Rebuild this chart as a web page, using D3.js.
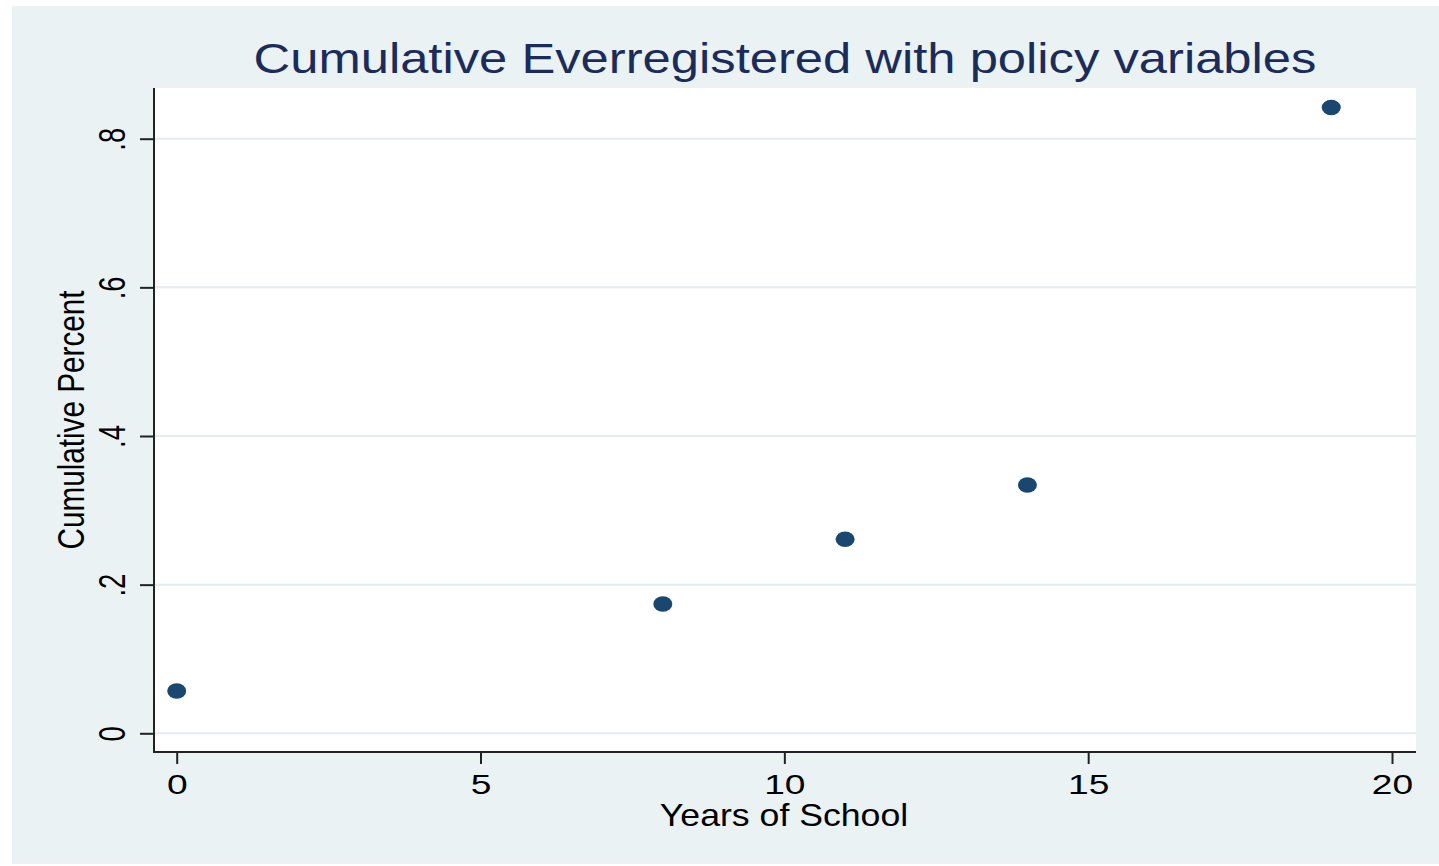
<!DOCTYPE html>
<html>
<head>
<meta charset="utf-8">
<script src="https://cdn.jsdelivr.net/npm/d3@7"></script>
<style>
  html, body { margin: 0; padding: 0; background: #ffffff; }
  svg { display: block; font-family: "Liberation Sans", Arial, Helvetica, sans-serif; }
</style>
</head>
<body>
<div class="container"></div>
<script>
// data
const years = [0, 8, 11, 14, 19]
const cumPct = [0.057, 0.174, 0.261, 0.334, 0.842]
const xTicks = [0, 5, 10, 15, 20]
const yTicks = [0, 0.2, 0.4, 0.6, 0.8]
const yTickLabels = ["0", ".2", ".4", ".6", ".8"]

const width = 1439
const height = 866
// plot region (white box)
const plot = {left: 154, right: 1416, top: 88, bottom: 752}

const navy = "#1a476f"
const bg = "#eaf2f3"

const svg = d3.select(".container")
    .append("svg")
    .attr("width", width)
    .attr("height", height)

// outer graph region
svg.append("rect")
    .attr("x", 12).attr("y", 6)
    .attr("width", width - 12).attr("height", height - 8)
    .attr("fill", bg)

svg.append("rect")
    .attr("x", plot.left).attr("y", plot.top)
    .attr("width", plot.right - plot.left)
    .attr("height", plot.bottom - plot.top)
    .attr("fill", "#ffffff")

const x = d3.scaleLinear().domain([0, 20]).range([176.7, 1392])
const y = d3.scaleLinear().domain([0, 0.8]).range([733.3, 138.7])

// gridlines
svg.append("g")
    .selectAll("line")
    .data(yTicks)
    .enter().append("line")
    .attr("x1", plot.left).attr("x2", plot.right)
    .attr("y1", d => y(d)).attr("y2", d => y(d))
    .attr("stroke", "#e4ecef")
    .attr("stroke-width", 2)

// x axis
const xAxis = svg.append("g")
    .attr("transform", "translate(0," + plot.bottom + ")")
    .call(d3.axisBottom(x).tickValues(xTicks).tickSize(12).tickSizeOuter(0))
xAxis.select(".domain").remove()
xAxis.selectAll(".tick line").attr("stroke", "#222").attr("stroke-width", 2)
xAxis.selectAll(".tick text")
    .attr("y", null).attr("dy", null)
    .attr("fill", "#000")
    .style("font-size", "27.5px")
    .attr("text-anchor", "middle")
    .attr("transform", "translate(0,42) scale(1.35,1)")

// y axis
const yAxis = svg.append("g")
    .attr("transform", "translate(" + plot.left + ",0)")
    .call(d3.axisLeft(y).tickValues(yTicks).tickSize(14).tickSizeOuter(0)
        .tickFormat((d, i) => yTickLabels[i]))
yAxis.select(".domain").remove()
yAxis.selectAll(".tick line").attr("stroke", "#222").attr("stroke-width", 2)
yAxis.selectAll(".tick text")
    .attr("x", null).attr("dy", null)
    .attr("fill", "#000")
    .style("font-size", "27.5px")
    .attr("text-anchor", "middle")
    .attr("transform", "translate(-29,0) scale(1.33,1) rotate(-90)")

// axis lines (left and bottom of the plot box)
svg.append("line")
    .attr("x1", plot.left).attr("x2", plot.left)
    .attr("y1", plot.top).attr("y2", plot.bottom + 1)
    .attr("stroke", "#222").attr("stroke-width", 2)
svg.append("line")
    .attr("x1", plot.left - 1).attr("x2", plot.right)
    .attr("y1", plot.bottom).attr("y2", plot.bottom)
    .attr("stroke", "#222").attr("stroke-width", 2)

// points
svg.append("g")
    .selectAll("ellipse")
    .data(years.map((d, i) => ({yr: d, pct: cumPct[i]})))
    .enter().append("ellipse")
    .attr("cx", d => x(d.yr))
    .attr("cy", d => y(d.pct))
    .attr("rx", 9.5)
    .attr("ry", 7.8)
    .attr("fill", navy)

// title
svg.append("text")
    .attr("transform", "translate(785,73) scale(1.18,1)")
    .attr("text-anchor", "middle")
    .attr("fill", "#1c2c5a")
    .style("font-size", "43px")
    .text("Cumulative Everregistered with policy variables")

// axis titles
svg.append("text")
    .attr("transform", "translate(784,826) scale(1.15,1)")
    .attr("text-anchor", "middle")
    .attr("fill", "#000")
    .style("font-size", "31px")
    .text("Years of School")

svg.append("text")
    .attr("transform", "translate(84,420) scale(1.25,1) rotate(-90)")
    .attr("text-anchor", "middle")
    .attr("fill", "#000")
    .style("font-size", "29.7px")
    .text("Cumulative Percent")
</script>
</body>
</html>
